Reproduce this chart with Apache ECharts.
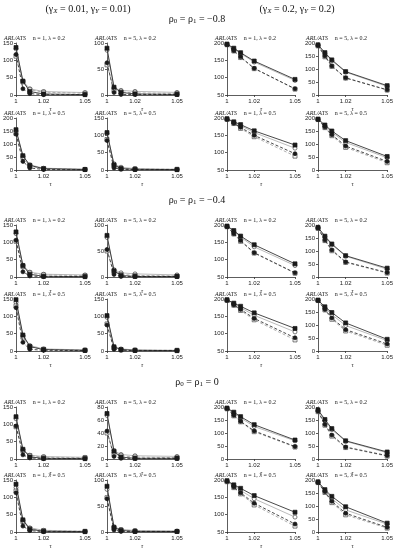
<!DOCTYPE html>
<html><head><meta charset="utf-8">
<script src="https://cdn.jsdelivr.net/npm/echarts@6/dist/echarts.min.js"></script>
<style>html,body{margin:0;padding:0;background:#fff}#c{width:396px;height:550px}</style>
</head><body><div id="c"></div>
<script>
// ---- data ----
const tau = [1, 1.005, 1.01, 1.02, 1.05];
const xTicks = [1, 1.02, 1.05];
const rhoValues = ['−0.8', '−0.4', '0'];
const gammaHeaders = ['(γ{s|X} = 0.01, γ{s|Y} = 0.01)', '(γ{s|X} = 0.2, γ{s|Y} = 0.2)'];
const panelLabels = ['n = 1, λ = 0.2', 'n = 5, λ = 0.2', 'n = 1, λ = 0.5', 'n = 5, λ = 0.5'];

// rho = -0.8 ; each panel: [S1, S2, S3, S4]
const m08_g001_n1l02 = [[137,40,10,3,1],[133,40,18,10,7],[117,18,4,1,1],[112,38,15,8,5]];
const m08_g001_n5l02 = [[90,15,5,2,1],[86,14,9,7,5],[62,5,1,1,1],[58,10,6,4,3]];
const m08_g001_n1l05 = [[155,55,18,5,2],[150,52,20,7,3],[138,33,8,2,1],[140,48,15,5,2]];
const m08_g001_n5l05 = [[108,15,4,2,1],[105,18,8,4,2],[85,6,2,1,1],[88,12,5,3,2]];
const m08_g02_n1l02 = [[197,185,172,148,95],[196,183,170,145,92],[195,178,160,127,68],[195,177,158,126,67]];
const m08_g02_n5l02 = [[193,163,135,90,36],[192,160,132,88,33],[190,150,112,66,20],[189,147,110,65,19]];
const m08_g02_n1l05 = [[198,189,181,163,122],[197,187,178,158,113],[196,185,173,150,97],[196,184,170,146,90]];
const m08_g02_n5l05 = [[196,173,150,113,52],[195,170,145,106,47],[194,165,136,92,33],[194,163,132,87,28]];

// rho = -0.4
const m04_g001_n1l02 = [[130,33,8,2,1],[125,34,14,8,6],[106,15,3,1,1],[103,30,12,6,4]];
const m04_g001_n5l02 = [[80,12,3,1,1],[76,14,8,6,4],[53,5,1,1,1],[50,10,5,3,2]];
const m04_g001_n1l05 = [[148,46,13,4,2],[140,45,16,6,3],[125,25,5,2,1],[130,40,12,5,2]];
const m04_g001_n5l05 = [[102,12,4,2,1],[97,12,6,3,2],[75,5,2,1,1],[78,9,4,2,2]];
const m04_g02_n1l02 = [[197,184,168,143,88],[196,182,165,137,83],[195,175,155,120,62],[195,174,153,119,61]];
const m04_g02_n5l02 = [[191,157,127,82,34],[190,155,124,80,30],[188,142,104,58,17],[187,140,101,56,15]];
const m04_g02_n1l05 = [[198,188,179,160,115],[197,186,175,153,105],[196,183,170,144,88],[196,182,167,140,82]];
const m04_g02_n5l05 = [[196,170,148,108,45],[195,166,140,98,40],[194,160,127,82,27],[194,158,122,77,22]];

// rho = 0
const r0_g001_n1l02 = [[122,28,6,2,1],[116,27,11,7,5],[95,12,3,1,1],[93,24,10,5,4]];
const r0_g001_n5l02 = [[70,12,3,1,1],[67,13,7,5,4],[43,4,1,1,1],[40,8,5,3,2]];
const r0_g001_n1l05 = [[138,35,8,2,1],[128,34,12,5,2],[113,17,4,1,1],[118,30,10,4,2]];
const r0_g001_n5l05 = [[88,9,3,1,1],[82,10,5,3,2],[64,4,1,1,1],[66,7,4,2,1]];
const r0_g02_n1l02 = [[196,180,163,132,73],[195,177,158,125,70],[194,168,145,108,48],[193,166,143,105,46]];
const r0_g02_n5l02 = [[189,152,117,70,27],[188,148,113,68,24],[184,133,92,46,13],[182,130,88,44,11]];
const r0_g02_n1l05 = [[198,186,176,155,107],[197,184,170,146,93],[196,180,163,133,73],[195,178,160,128,67]];
const r0_g02_n5l05 = [[193,163,137,97,34],[192,160,128,85,30],[190,155,118,72,18],[190,152,113,66,15]];

// y-axis tick ranges per panel: [L1,L2,L3,L4,R1,R2,R3,R4]
const yMin_m08 = [0,0,0,0,50,0,50,0];
const yMax_m08 = [150,100,200,150,200,200,200,200];
const yMin_m04 = [0,0,0,0,50,0,50,0];
const yMax_m04 = [150,100,150,150,200,200,200,200];
const yMin_r0 = [0,0,0,0,0,0,50,0];
const yMax_r0 = [150,80,150,100,200,200,200,200];
const yStep_r0 = [50,20,50,50,50,50,50,50];

const blocks = [
  {rho: rhoValues[0], panels: [m08_g001_n1l02,m08_g001_n5l02,m08_g001_n1l05,m08_g001_n5l05,m08_g02_n1l02,m08_g02_n5l02,m08_g02_n1l05,m08_g02_n5l05], ymin: yMin_m08, ymax: yMax_m08, ystep: [50,50,50,50,50,50,50,50]},
  {rho: rhoValues[1], panels: [m04_g001_n1l02,m04_g001_n5l02,m04_g001_n1l05,m04_g001_n5l05,m04_g02_n1l02,m04_g02_n5l02,m04_g02_n1l05,m04_g02_n5l05], ymin: yMin_m04, ymax: yMax_m04, ystep: [50,50,50,50,50,50,50,50]},
  {rho: rhoValues[2], panels: [r0_g001_n1l02,r0_g001_n5l02,r0_g001_n1l05,r0_g001_n5l05,r0_g02_n1l02,r0_g02_n5l02,r0_g02_n1l05,r0_g02_n5l05], ymin: yMin_r0, ymax: yMax_r0, ystep: yStep_r0}
];

// ---- layout / style ----
const colLeft = [16, 107, 227, 318];
const colWidth = [69, 70, 68, 70];
const rowTops = [[43, 118], [225, 299], [407, 480]];
const rhoY = [19, 200, 382];
const PH = 52;
const serif = "'Liberation Serif','DejaVu Serif',serif";
const sans = "'Liberation Sans','DejaVu Sans',sans-serif";

const seriesStyle = [
  {line: '#1a1a1a', type: 'solid', symbol: 'rect', fill: '#1a1a1a', border: '#1a1a1a'},
  {line: '#a8a8a8', type: 'solid', symbol: 'circle', fill: '#ffffff', border: '#444'},
  {line: '#1a1a1a', type: [3, 2], symbol: 'circle', fill: '#1a1a1a', border: '#1a1a1a'},
  {line: '#9a9a9a', type: [3, 2], symbol: 'rect', fill: '#ffffff', border: '#444'}
];

const grids = [], xAxes = [], yAxes = [], series = [], graphics = [];

gammaHeaders.forEach((t, i) => {
  graphics.push({type: 'text', x: i === 0 ? 88 : 297, y: 9, style: {
    text: t, fontFamily: serif, fontSize: 10, fill: '#111', align: 'center', verticalAlign: 'middle',
    rich: {s: {fontSize: 7, fontFamily: serif, fontStyle: 'italic', verticalAlign: 'bottom', padding: [5, 0, 0, 0]}}
  }});
});

let idx = 0;
blocks.forEach((b, bi) => {
  graphics.push({type: 'text', x: 197, y: rhoY[bi], style: {
    text: 'ρ{s|0} = ρ{s|1} = ' + b.rho, fontFamily: serif, fontSize: 10, fill: '#111', align: 'center', verticalAlign: 'middle',
    rich: {s: {fontSize: 7, fontFamily: serif, verticalAlign: 'bottom', padding: [5, 0, 0, 0]}}
  }});
  b.panels.forEach((vals, p) => {
    const col = p < 4 ? p % 2 : 2 + p % 2;
    const row = (p % 4) < 2 ? 0 : 1;
    const top = rowTops[bi][row];
    grids.push({left: colLeft[col], top: top, width: colWidth[col], height: PH});
    xAxes.push({
      type: 'value', gridIndex: idx, min: 1, max: 1.05,
      name: 'τ', nameLocation: 'middle', nameGap: 11,
      nameTextStyle: {fontFamily: serif, fontStyle: 'italic', fontSize: 6, color: '#222'},
      axisLine: {show: true, lineStyle: {color: '#333', width: 0.8}},
      axisTick: {show: true, length: 2, customValues: xTicks, lineStyle: {color: '#333', width: 0.8}},
      axisLabel: {customValues: xTicks, fontSize: 6, margin: 3, color: '#222', fontFamily: sans},
      splitLine: {show: false}
    });
    yAxes.push({
      type: 'value', gridIndex: idx, min: b.ymin[p], max: b.ymax[p], interval: b.ystep[p],
      axisLine: {show: true, lineStyle: {color: '#333', width: 0.8}},
      axisTick: {show: true, length: 2, lineStyle: {color: '#333', width: 0.8}},
      axisLabel: {fontSize: 6, margin: 3, color: '#222', fontFamily: sans},
      splitLine: {show: false}
    });
    graphics.push({type: 'text', x: colLeft[col] - 12, y: top - 5, style: {
      text: '{i|ARL/ATS}    {r|' + panelLabels[p % 4] + '}', fontSize: 6, fill: '#222', align: 'left', verticalAlign: 'middle',
      rich: {i: {fontFamily: serif, fontStyle: 'italic', fontSize: 6}, r: {fontFamily: serif, fontSize: 6}}
    }});
    [1, 3, 0, 2].forEach(s => {
      const st = seriesStyle[s];
      series.push({
        type: 'line', xAxisIndex: idx, yAxisIndex: idx,
        data: tau.map((t, k) => [t, vals[s][k]]),
        symbol: st.symbol, symbolSize: 4, showSymbol: true,
        lineStyle: {color: st.line, width: 0.8, type: st.type},
        itemStyle: {color: st.fill, borderColor: st.border, borderWidth: 0.7},
        z: s === 0 || s === 2 ? 3 : 2,
        animation: false, silent: true
      });
    });
    idx++;
  });
});

const chart = echarts.init(document.getElementById('c'), null, {renderer: 'canvas'});
chart.setOption({
  backgroundColor: '#fff', animation: false,
  grid: grids, xAxis: xAxes, yAxis: yAxes, series: series, graphic: graphics
});
</script></body></html>
